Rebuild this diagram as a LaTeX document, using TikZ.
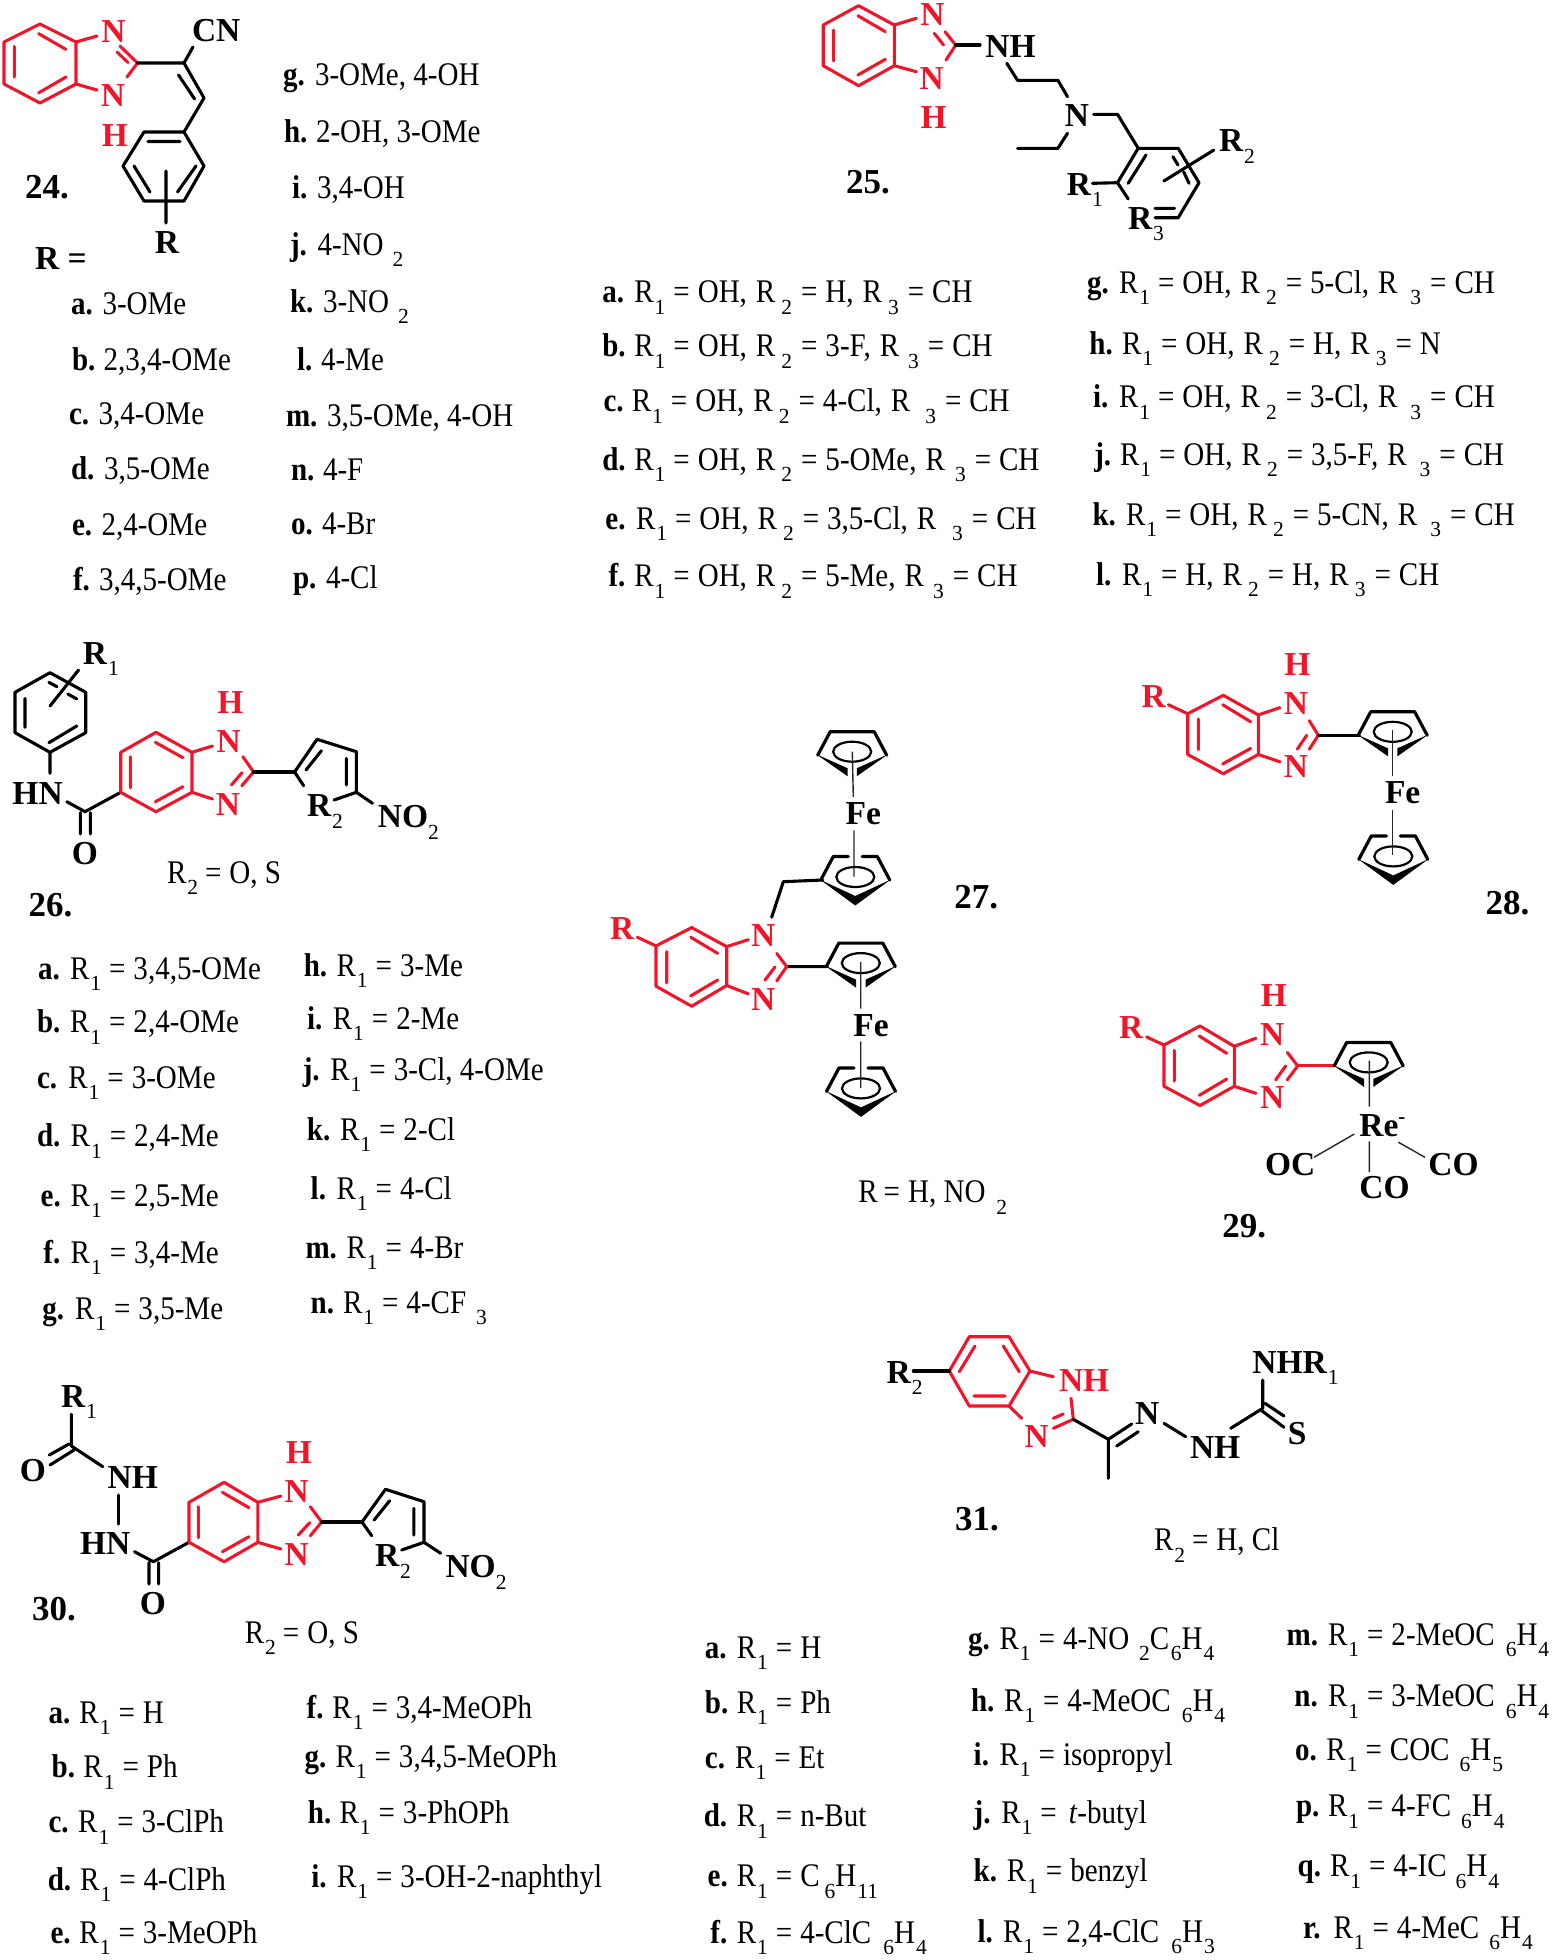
\documentclass[tikz,border=0pt]{standalone}
\usepackage{fontspec}
\setmainfont{Liberation Serif}
\newfontfamily\lstfont[FakeStretch=0.88]{Liberation Serif}
\definecolor{cred}{RGB}{240,22,42}
\newcounter{ncnt}
\newcommand\sbs[1]{\raisebox{-11.5pt}{\fontsize{21.5}{21.5}\rmfamily\mdseries\selectfont #1}}
\newcommand\RA[1]{R\kern1pt\sbs{#1}\kern8pt}
\newcommand\Rk[2]{R\kern#1pt\sbs{#2}\kern9pt}
\newcommand\EQ{=\kern8pt}
\newcommand\CM{,\kern9pt}
\newcommand\itm[5]{\stepcounter{ncnt}%
  \node[txt] (n\thencnt a) at (#1,#2) {\textbf{#3}};
  \node[txt] (n\thencnt b) at (#4,#2) {#5};}
\newcommand\CpA[2]{\begin{scope}[shift={(#1,#2)}]
  \draw[bk,line width=3.2pt] (-34.5,0)--(-22,-23.5)--(22,-23.5)--(34.5,0);
  \fill[black] (-36,-1)--(-4.7,21)--(-4.7,13)--cycle;
  \fill[black] (36,-1)--(4.7,21)--(4.7,13)--cycle;
  \draw[line width=2.2pt] (0,-3.5) ellipse (19 and 10);
  \end{scope}}
\newcommand\CpB[2]{\begin{scope}[shift={(#1,#2)}]
  \draw[bk,line width=3.2pt] (-7,-23.5)--(-22,-23.5)--(-34.5,0);
  \draw[bk,line width=3.2pt] (7,-23.5)--(22,-23.5)--(34.5,0);
  \fill[black] (-35.5,-0.5)--(0,25.5)--(35.5,-0.5)--(0,16)--cycle;
  \draw[line width=2.2pt] (0,-3) ellipse (19 and 10);
  \end{scope}}
\begin{document}
\begin{tikzpicture}[x=1pt,y=-1pt,
  bk/.style={line width=3.1pt,line cap=round,line join=round,black},
  rb/.style={line width=3.1pt,line cap=round,line join=round,cred},
  thin bond/.style={line width=1.4pt,black!85},
  txt/.style={anchor=base west,inner sep=0pt,outer sep=0pt,font=\lstfont\fontsize{33}{33}\selectfont},
  atm/.style={anchor=base west,inner sep=0pt,outer sep=0pt,font=\fontsize{33.5}{33.5}\bfseries\selectfont},
  atc/.style={atm,anchor=base},
  rat/.style={atc,text=cred},
  num/.style={atm,font=\fontsize{35}{35}\bfseries\selectfont}]
\useasboundingbox (0,0) rectangle (1554,1960);

% ---------- 24
\draw[rb] (40,24)--(76,42)--(76,84)--(40,103)--(4,84)--(4,42)--cycle;
\draw[rb] (38.6,33.6)--(66,49.4) (14.3,46.4)--(14.3,77) (38.6,92.9)--(66,77);
\draw[rb] (76,42)--(97,36) (76,84)--(97,90);
\draw[rb] (120,46)--(137.5,63)--(127,77) (117,52)--(128,62.5);
\draw[bk] (137.5,63)--(184,63)--(193,47) (184,63)--(204,98)--(184,132) (178.5,75)--(194.6,99);
\draw[bk] (184,132)--(144,132)--(123,166)--(144,201)--(184,201)--(204,166)--cycle;
\draw[bk] (148,141.5)--(180,141.5) (134,166)--(150,192) (196,166)--(177.5,192) (166,171)--(166,223);
\node[rat] (a24n1) at (113.5,42.5) {N};
\node[rat] (a24n2) at (113,106) {N};
\node[rat] (a24h) at (115,146) {H};
\node[atm] (a24cn) at (192,41) {CN};
\node[atc] (a24r) at (167,253) {R};
\node[num] (l24) at (25,198) {24.};
\node[atm] (l24r) at (35,269) {R =};
\itm{71}{314}{a.}{102.5}{3-OMe}
\itm{72}{370}{b.}{103.5}{2,3,4-OMe}
\itm{69}{424}{c.}{98.5}{3,4-OMe}
\itm{71}{479}{d.}{104}{3,5-OMe}
\itm{72}{535}{e.}{101.5}{2,4-OMe}
\itm{73}{590}{f.}{99}{3,4,5-OMe}
\itm{283}{85}{g.}{315}{3-OMe, 4-OH}
\itm{284}{142}{h.}{316}{2-OH, 3-OMe}
\itm{292}{198}{i.}{317}{3,4-OH}
\itm{290}{255}{j.}{317.5}{4-NO\kern9pt\sbs{2}}
\itm{290}{312}{k.}{323}{3-NO\kern9pt\sbs{2}}
\itm{297}{370}{l.}{321}{4-Me}
\itm{286}{426}{m.}{327}{3,5-OMe, 4-OH}
\itm{291}{480}{n.}{323}{4-F}
\itm{291}{534}{o.}{322}{4-Br}
\itm{293}{588}{p.}{326}{4-Cl}

% ---------- 25
\draw[rb] (858.6,5.7)--(894.3,25)--(894.3,65.7)--(858.6,85.7)--(823.2,65.7)--(823.2,25)--cycle;
\draw[rb] (857.9,15.7)--(885.4,31.7) (833.6,30)--(833.6,61) (857.9,75)--(885.4,59.3);
\draw[rb] (894.3,25)--(916.4,18.3) (894.3,65.7)--(916.4,71.7);
\draw[rb] (945,31.7)--(955.7,45)--(946,60) (934.3,33.3)--(943.6,45);
\draw[bk] (955.7,45)--(980,45);
\draw[bk] (1006.8,63.3)--(1017.5,80.3)--(1057.9,80.3)--(1067.5,96.7);
\draw[bk] (1093.6,114.3)--(1117.5,114.3)--(1138.2,148.3);
\draw[bk] (1067.5,133.3)--(1057.9,148.3)--(1017.5,148.3);
\draw[bk] (1128.2,199)--(1117.5,182.7)--(1138.2,148.3)--(1178.2,148.3)--(1199,182.7)--(1178.2,217.7)--(1155,217.7);
\draw[bk] (1146,155)--(1128.2,183.3) (1172.9,156.7)--(1178,165) (1183.6,171.7)--(1189,183.3) (1155,208.3)--(1174.6,208.3);
\draw[bk] (1163.9,181)--(1213.9,150) (1092.5,183.3)--(1117.5,182.7);
\node[rat] (a25n1) at (932.5,25) {N};
\node[rat] (a25n2) at (931.8,89) {N};
\node[rat] (a25h) at (933.6,128) {H};
\node[atm] (a25nh) at (985.4,57) {NH};
\node[atc] (a25n3) at (1077,126.7) {N};
\node[atm] (a25r2) at (1219,151.7) {R\kern1pt\sbs{2}};
\node[atm] (a25r1) at (1066.8,195) {R\kern1pt\sbs{1}};
\node[atm] (a25r3) at (1128,229) {R\kern1pt\sbs{3}};
\node[num] (l25) at (846,193) {25.};
\itm{602.3}{302.7}{a.}{634.3}{\RA{1}\EQ OH\CM\Rk{6}{2}\EQ H\CM\Rk{6}{3}\EQ CH}
\itm{602.3}{356.7}{b.}{634.3}{\RA{1}\EQ OH\CM\Rk{6}{2}\EQ 3-F\CM\Rk{9}{3}\EQ CH}
\itm{603.5}{411.7}{c.}{631.8}{\RA{1}\EQ OH\CM\Rk{6}{2}\EQ 4-Cl\CM\Rk{15}{3}\EQ CH}
\itm{602.3}{470}{d.}{634.3}{\RA{1}\EQ OH\CM\Rk{6}{2}\EQ 5-OMe\CM\Rk{10}{3}\EQ CH}
\itm{605.4}{529}{e.}{636}{\RA{1}\EQ OH\CM\Rk{6}{2}\EQ 3,5-Cl\CM\Rk{16}{3}\EQ CH}
\itm{608.5}{586.7}{f.}{634.3}{\RA{1}\EQ OH\CM\Rk{6}{2}\EQ 5-Me\CM\Rk{9}{3}\EQ CH}
\itm{1087}{293}{g.}{1119}{\RA{1}\EQ OH\CM\Rk{6}{2}\EQ 5-Cl\CM\Rk{13}{3}\EQ CH}
\itm{1089.4}{354}{h.}{1122}{\RA{1}\EQ OH\CM\Rk{6}{2}\EQ H\CM\Rk{6}{3}\EQ N}
\itm{1093}{407.7}{i.}{1119}{\RA{1}\EQ OH\CM\Rk{6}{2}\EQ 3-Cl\CM\Rk{13}{3}\EQ CH}
\itm{1094.3}{465}{j.}{1120}{\RA{1}\EQ OH\CM\Rk{6}{2}\EQ 3,5-F\CM\Rk{13}{3}\EQ CH}
\itm{1092.5}{525}{k.}{1126}{\RA{1}\EQ OH\CM\Rk{6}{2}\EQ 5-CN\CM\Rk{13}{3}\EQ CH}
\itm{1096}{585}{l.}{1122}{\RA{1}\EQ H\CM\Rk{6}{2}\EQ H\CM\Rk{6}{3}\EQ CH}

% ---------- 26
\draw[bk] (50,672.7)--(85.7,692.3)--(85.7,732.7)--(50,752.3)--(15,732.7)--(15,692.3)--cycle;
\draw[bk] (25,698.3)--(25,727.3) (48.9,682.3)--(57,686.7) (67.9,694)--(76.8,699) (48.9,742.7)--(76.8,726);
\draw[bk] (50,706)--(78.6,670) (50,752.3)--(50,773.3);
\draw[bk] (66.8,801.7)--(85,811.7)--(120.7,792.3) (80.4,812.7)--(80.4,834) (90.4,812.7)--(90.4,834);
\draw[rb] (156,732.3)--(192,752.3)--(192,792.3)--(156,811.7)--(120.7,792.3)--(120.7,752.3)--cycle;
\draw[rb] (155.4,742.3)--(182.9,757.7) (130.4,756.7)--(130.4,787.7) (155.4,801.7)--(182.9,786.7);
\draw[rb] (192,752.3)--(212.5,746) (192,792.3)--(212.5,799);
\draw[rb] (242.9,756.7)--(253.6,772)--(241.8,785.7) (242,772.7)--(231.4,785);
\draw[bk] (253.6,772)--(294.6,772);
\draw[bk] (303.6,785.7)--(294.6,772)--(317,739.3)--(356.4,751.7)--(356.4,792.3)--(334,800);
\draw[bk] (321.4,750.7)--(306,770) (346.4,758.3)--(346.4,785) (356.4,792.3)--(372.5,803.3);
\node[atm] (a26r1) at (82.9,664) {R\kern1pt\sbs{1}};
\node[atm] (a26hn) at (12.5,804) {HN};
\node[atc] (a26o) at (85,864.3) {O};
\node[rat] (a26n1) at (228.6,752.3) {N};
\node[rat] (a26n2) at (228,815.7) {N};
\node[rat] (a26h) at (230.4,713.3) {H};
\node[atm] (a26r2) at (307,816.7) {R\kern1pt\sbs{2}};
\node[atm] (a26no) at (377.9,827.7) {NO\sbs{2}};
\node[txt] (a26t) at (167,883.3) {R\kern1pt\sbs{2}\kern7pt\EQ O, S};
\node[num] (l26) at (28.6,916) {26.};
\itm{38}{979.3}{a.}{70}{\RA{1}\EQ 3,4,5-OMe}
\itm{37}{1032.7}{b.}{70}{\RA{1}\EQ 2,4-OMe}
\itm{37}{1088.3}{c.}{68.3}{\RA{1}\EQ 3-OMe}
\itm{37}{1146.7}{d.}{70.7}{\RA{1}\EQ 2,4-Me}
\itm{40.7}{1206}{e.}{70.7}{\RA{1}\EQ 2,5-Me}
\itm{43.4}{1263}{f.}{70.7}{\RA{1}\EQ 3,4-Me}
\itm{42.4}{1319}{g.}{75}{\RA{1}\EQ 3,5-Me}
\itm{303.8}{976}{h.}{336.6}{\RA{1}\EQ 3-Me}
\itm{307}{1029.3}{i.}{332.8}{\RA{1}\EQ 2-Me}
\itm{302.8}{1080}{j.}{330.3}{\RA{1}\EQ 3-Cl, 4-OMe}
\itm{306.9}{1140}{k.}{340}{\RA{1}\EQ 2-Cl}
\itm{310.7}{1199.3}{l.}{336.6}{\RA{1}\EQ 4-Cl}
\itm{305.5}{1258.3}{m.}{346.6}{\RA{1}\EQ 4-Br}
\itm{310.7}{1313.3}{n.}{343}{\RA{1}\EQ 4-CF\kern10pt\sbs{3}}

% ---------- 27
\CpA{852.2}{755.2}
\CpB{855.3}{880}
\CpA{860.8}{966.6}
\CpB{861}{1091.4}
\draw[thin bond] (852.3,751.7)--(853.3,797.2) (854,830.3)--(854,876.6) (860.7,962)--(860.7,1008.6) (860.7,1041.4)--(860.7,1088);
\draw[bk] (822.7,880)--(783.3,881.7)--(771.7,917.2) (786.7,966.6)--(827.3,966.6);
\draw[rb] (691.7,927.6)--(726.7,946.6)--(726.7,985.5)--(691.7,1006.2)--(656,986.2)--(656,945.9)--cycle;
\draw[rb] (690.7,937.2)--(717.7,953.4) (666.7,951.7)--(666.7,982.8) (690.7,995.9)--(717.7,980);
\draw[rb] (726.7,946.6)--(748.3,939.7) (726.7,985.5)--(748.3,993.8) (637.3,937.2)--(656,945.9);
\draw[rb] (776.7,953.4)--(786.7,966.6)--(776.7,981) (775,967)--(765,980);
\node[atm] (a27fe1) at (845.7,824.8) {Fe};
\node[atm] (a27fe2) at (853.3,1036.2) {Fe};
\node[rat] (a27n1) at (763.3,946.6) {N};
\node[rat] (a27n2) at (763.3,1010.3) {N};
\node[atm,text=cred] (a27r) at (610,939.7) {R};
\node[num] (l27) at (954.3,908.6) {27.};
\node[txt] (a27t) at (858.3,1202.8) {R\kern6pt\EQ H, NO\kern11pt\sbs{2}};

% ---------- 28
\draw[rb] (1223.3,695.3)--(1258.3,714.9)--(1258.3,754.5)--(1223.3,773.7)--(1187.7,754.5)--(1187.7,713.7)--cycle;
\draw[rb] (1222.7,704.7)--(1250.7,721.8) (1198.3,719)--(1198.3,749.6) (1222.7,763.9)--(1250.7,748.4);
\draw[rb] (1258.3,714.9)--(1280,707.6) (1258.3,754.5)--(1280,761.8) (1168.3,704.7)--(1187.7,713.7);
\draw[rb] (1309.3,720.6)--(1318.3,735.3)--(1309.3,749.2) (1306.7,735.3)--(1297.3,749.2);
\draw[bk] (1318.3,735.3)--(1359.3,735.3);
\CpA{1392.7}{735.3}
\CpB{1393.3}{859.4}
\draw[thin bond] (1392.7,730)--(1392.7,776.1) (1392.7,809.6)--(1392.7,854.5);
\node[atm] (a28fe) at (1385,803.5) {Fe};
\node[rat] (a28n1) at (1296,714.9) {N};
\node[rat] (a28n2) at (1296,777.8) {N};
\node[rat] (a28h) at (1297.3,675.7) {H};
\node[atm,text=cred] (a28r) at (1141.7,707.6) {R};
\node[num] (l28) at (1485.7,914.5) {28.};

% ---------- 29
\draw[rb] (1200,1026)--(1234.3,1046.3)--(1234.3,1086.3)--(1200,1105.5)--(1164,1086.3)--(1164,1045)--cycle;
\draw[rb] (1199.3,1036)--(1226.7,1053.3) (1174.3,1050.4)--(1174.3,1081) (1199.3,1095.3)--(1226.7,1079);
\draw[rb] (1234.3,1046.3)--(1256,1038.2) (1234.3,1086.3)--(1256,1093.3) (1146.7,1037)--(1164,1045);
\draw[rb] (1287.3,1052.4)--(1297.7,1065.9)--(1287.3,1079.8) (1285.7,1065.9)--(1275.7,1079.8);
\draw[rb] (1297.7,1065.9)--(1334.3,1065.9);
\CpA{1368.7}{1065.9}
\draw[thin bond] (1369.3,1060.6)--(1369.3,1106.7) (1354.3,1134)--(1314,1157.3) (1369.3,1141.4)--(1369.3,1172) (1398.3,1142.2)--(1425,1157.3);
\node[atm] (a29re) at (1359.3,1136) {Re\raisebox{13pt}{\fontsize{21}{21}\selectfont -}};
\node[atm] (a29oc) at (1265,1175.7) {OC};
\node[atm] (a29co1) at (1428.3,1175.7) {CO};
\node[atm] (a29co2) at (1359.3,1198) {CO};
\node[rat] (a29n1) at (1272.3,1045.5) {N};
\node[rat] (a29n2) at (1272.3,1108.8) {N};
\node[rat] (a29h) at (1274,1006.7) {H};
\node[atm,text=cred] (a29r) at (1119,1038) {R};
\node[num] (l29) at (1222.3,1237) {29.};

% ---------- 30
\draw[bk] (71.4,1414.3)--(71.4,1446)--(102.8,1466.7) (69,1444)--(49.3,1455) (74,1450)--(50,1465);
\draw[bk] (118.3,1495)--(118.3,1524);
\draw[bk] (134.5,1551.7)--(153.4,1561.7)--(189,1542.3) (149,1562.7)--(149,1584) (158.6,1562.7)--(158.6,1584);
\draw[rb] (224.1,1482.3)--(257.9,1502.3)--(257.9,1542.3)--(224.1,1561.7)--(189,1542.3)--(189,1502.3)--cycle;
\draw[rb] (222.4,1492.3)--(249,1507.7) (198.3,1506.7)--(198.3,1537.7) (222.4,1551.7)--(249,1536.7);
\draw[rb] (257.9,1502.3)--(281,1496) (257.9,1542.3)--(281,1549);
\draw[rb] (310.3,1506.7)--(321.7,1522)--(310.3,1535.7) (309.7,1522.7)--(298.3,1535);
\draw[bk] (321.7,1522)--(362,1522);
\draw[bk] (371.7,1535.7)--(362,1522)--(385.5,1489.3)--(424,1501.7)--(424,1542.3)--(401.7,1550);
\draw[bk] (389.7,1500.7)--(374.1,1520) (413.8,1508.3)--(413.8,1535) (424,1542.3)--(440.7,1553.3);
\node[atm] (a30r1) at (61,1407.3) {R\kern1pt\sbs{1}};
\node[atc] (a30o1) at (32.8,1481.7) {O};
\node[atm] (a30nh) at (107.6,1488.3) {NH};
\node[atm] (a30hn) at (80,1554) {HN};
\node[atc] (a30o2) at (152.8,1614.3) {O};
\node[rat] (a30n1) at (296.6,1502.3) {N};
\node[rat] (a30n2) at (296.6,1565.7) {N};
\node[rat] (a30h) at (299,1463.3) {H};
\node[atm] (a30r2) at (375,1566.7) {R\kern1pt\sbs{2}};
\node[atm] (a30no) at (445.5,1577.7) {NO\sbs{2}};
\node[num] (l30) at (32,1620) {30.};
\node[txt] (a30t) at (244.8,1643.3) {R\kern1pt\sbs{2}\kern7pt\EQ O, S};
\itm{48.6}{1723.3}{a.}{79.4}{\RA{1}\EQ H}
\itm{51.7}{1777.7}{b.}{83.4}{\RA{1}\EQ Ph}
\itm{48.6}{1832.7}{c.}{78.2}{\RA{1}\EQ 3-ClPh}
\itm{47.8}{1890}{d.}{80.2}{\RA{1}\EQ 4-ClPh}
\itm{50.6}{1943.3}{e.}{79.4}{\RA{1}\EQ 3-MeOPh}
\itm{306.7}{1718.3}{f.}{332.4}{\RA{1}\EQ 3,4-MeOPh}
\itm{304.7}{1767.3}{g.}{335.5}{\RA{1}\EQ 3,4,5-MeOPh}
\itm{307.9}{1823.3}{h.}{339.5}{\RA{1}\EQ 3-PhOPh}
\itm{311.4}{1887.3}{i.}{337}{\RA{1}\EQ 3-OH-2-naphthyl}

% ---------- 31
\draw[rb] (969.3,1336.7)--(1009,1336.7)--(1030,1371)--(1009,1406)--(969.3,1406)--(949.3,1371)--cycle;
\draw[rb] (975,1346)--(959.3,1371.7) (1003.3,1346)--(1019.3,1371.7) (974,1396)--(1005,1396);
\draw[rb] (1030,1371)--(1053.3,1376.7) (1009,1406)--(1021.7,1418.3);
\draw[rb] (1071,1398.3)--(1073.3,1419.3)--(1053.3,1428.3) (1053.3,1418.3)--(1063.3,1414);
\draw[bk] (1073.3,1419.3)--(1108.3,1439.3)--(1108.3,1478.3);
\draw[bk] (1108.3,1439.3)--(1131.7,1424) (1116.7,1446)--(1138.3,1431.7);
\draw[bk] (1164,1423.3)--(1185.7,1436.7);
\draw[bk] (1230.7,1428.3)--(1262.7,1408.3)--(1262.7,1380);
\draw[bk] (1265,1403.3)--(1284,1416) (1261.7,1410.7)--(1284,1427.3);
\draw[bk] (913.3,1371)--(949.3,1371);
\node[atm,text=cred] (a31nh) at (1059,1391.7) {NH};
\node[rat] (a31n1) at (1036.7,1447.3) {N};
\node[atc] (a31n2) at (1147.3,1424) {N};
\node[atm] (a31nh2) at (1190,1458.3) {NH};
\node[atm] (a31r1) at (1252.3,1373.3) {NHR\kern1pt\sbs{1}};
\node[atc] (a31s) at (1297.3,1444) {S};
\node[atm] (a31r2) at (886.7,1383.3) {R\kern1pt\sbs{2}};
\node[num] (l31) at (955,1530.7) {31.};
\node[txt] (a31t) at (1154,1550.7) {R\kern1pt\sbs{2}\kern7pt\EQ H, Cl};
\itm{704.9}{1658.3}{a.}{736.8}{\RA{1}\EQ H}
\itm{704.9}{1713.3}{b.}{736.8}{\RA{1}\EQ Ph}
\itm{704.9}{1768.3}{c.}{735.2}{\RA{1}\EQ Et}
\itm{703.8}{1826.7}{d.}{736.8}{\RA{1}\EQ n-But}
\itm{707.6}{1886.7}{e.}{736.8}{\RA{1}\EQ C\kern5pt\sbs{6}H\kern1pt\sbs{11}}
\itm{710.4}{1943.3}{f.}{736.8}{\RA{1}\EQ 4-ClC\kern12pt\sbs{6}H\kern1pt\sbs{4}}
\itm{968.2}{1649.3}{g.}{999.6}{\RA{1}\EQ 4-NO\kern10pt\sbs{2}C\kern1.5pt\sbs{6}H\kern1pt\sbs{4}}
\itm{971}{1711}{h.}{1004}{\RA{1}\EQ 4-MeOC\kern11pt\sbs{6}H\kern1pt\sbs{4}}
\itm{973.7}{1765}{i.}{999.6}{\RA{1}\EQ isopropyl}
\itm{973.7}{1823.3}{j.}{1001.3}{\RA{1}\EQ\kern4pt\textit{t}-butyl}
\itm{973.7}{1881.7}{k.}{1006.8}{\RA{1}\EQ benzyl}
\itm{977.6}{1942.3}{l.}{1003}{\RA{1}\EQ 2,4-ClC\kern12pt\sbs{6}H\kern1pt\sbs{3}}
\itm{1286.7}{1645}{m.}{1328}{\RA{1}\EQ 2-MeOC\kern11pt\sbs{6}H\kern1pt\sbs{4}}
\itm{1294.4}{1706.7}{n.}{1328}{\RA{1}\EQ 3-MeOC\kern11pt\sbs{6}H\kern1pt\sbs{4}}
\itm{1295}{1760}{o.}{1326.4}{\RA{1}\EQ COC\kern10pt\sbs{6}H\kern1pt\sbs{5}}
\itm{1296}{1816.7}{p.}{1328}{\RA{1}\EQ 4-FC\kern10pt\sbs{6}H\kern1pt\sbs{4}}
\itm{1297.7}{1876.7}{q.}{1330}{\RA{1}\EQ 4-IC\kern9pt\sbs{6}H\kern1pt\sbs{4}}
\itm{1303}{1938.3}{r.}{1333.5}{\RA{1}\EQ 4-MeC\kern10pt\sbs{6}H\kern1pt\sbs{4}}
\end{tikzpicture}
\end{document}
